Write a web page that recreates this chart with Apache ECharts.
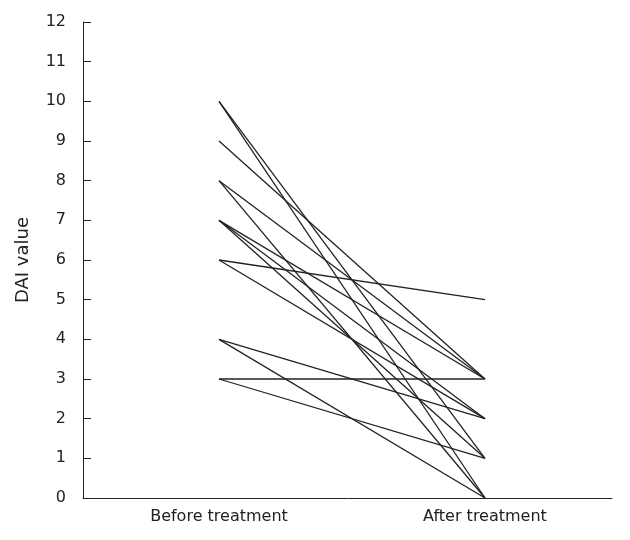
<!DOCTYPE html>
<html>
<head>
<meta charset="utf-8">
<script src="https://cdn.jsdelivr.net/npm/echarts@6/dist/echarts.min.js"></script>
<style>html,body{margin:0;padding:0;background:#fff}#c{width:630px;height:540px}</style>
</head>
<body>
<div id="c"></div>
<script>
var groups = ['Before treatment', 'After treatment'];
var beforeValues = [10, 10, 9, 8, 8, 7, 7, 7, 6, 6, 4, 4, 3, 3];
var afterValues  = [0, 1, 3, 3, 0, 3, 2, 1, 5, 2, 2, 0, 3, 1];
var yTicks = [0,1,2,3,4,5,6,7,8,9,10,11,12];

var series = beforeValues.map(function (b, i) {
  return {
    type: 'line',
    data: [[0, b], [1, afterValues[i]]],
    symbol: 'none',
    silent: true,
    lineStyle: { color: '#222', width: 1.3 }
  };
});

var chart = echarts.init(document.getElementById('c'), null, { renderer: 'canvas' });
chart.setOption({
  animation: false,
  backgroundColor: '#fff',
  grid: { left: 83, right: 18, top: 22, bottom: 42, containLabel: false },
  xAxis: {
    type: 'value',
    min: -0.5113,
    max: 1.4775,
    splitLine: { show: false },
    axisLine: { show: true, onZero: false, lineStyle: { color: '#222', width: 1 } },
    axisTick: { show: false },
    axisLabel: {
      customValues: [0, 1],
      formatter: function (v) { return groups[Math.round(v)]; },
      color: '#222', fontFamily: 'DejaVu Sans', fontSize: 16, margin: 11
    }
  },
  yAxis: {
    type: 'value',
    min: yTicks[0],
    max: yTicks[yTicks.length - 1],
    interval: 1,
    name: 'DAI value',
    nameLocation: 'middle',
    nameGap: 51,
    nameTextStyle: { color: '#222', fontFamily: 'DejaVu Sans', fontSize: 18 },
    splitLine: { show: false },
    axisLine: { show: true, onZero: false, lineStyle: { color: '#222', width: 1 } },
    axisTick: { show: true, inside: true, length: 8, lineStyle: { color: '#222' } },
    axisLabel: { color: '#222', fontFamily: 'DejaVu Sans', fontSize: 16, margin: 17 }
  },
  series: series
});
</script>
</body>
</html>
